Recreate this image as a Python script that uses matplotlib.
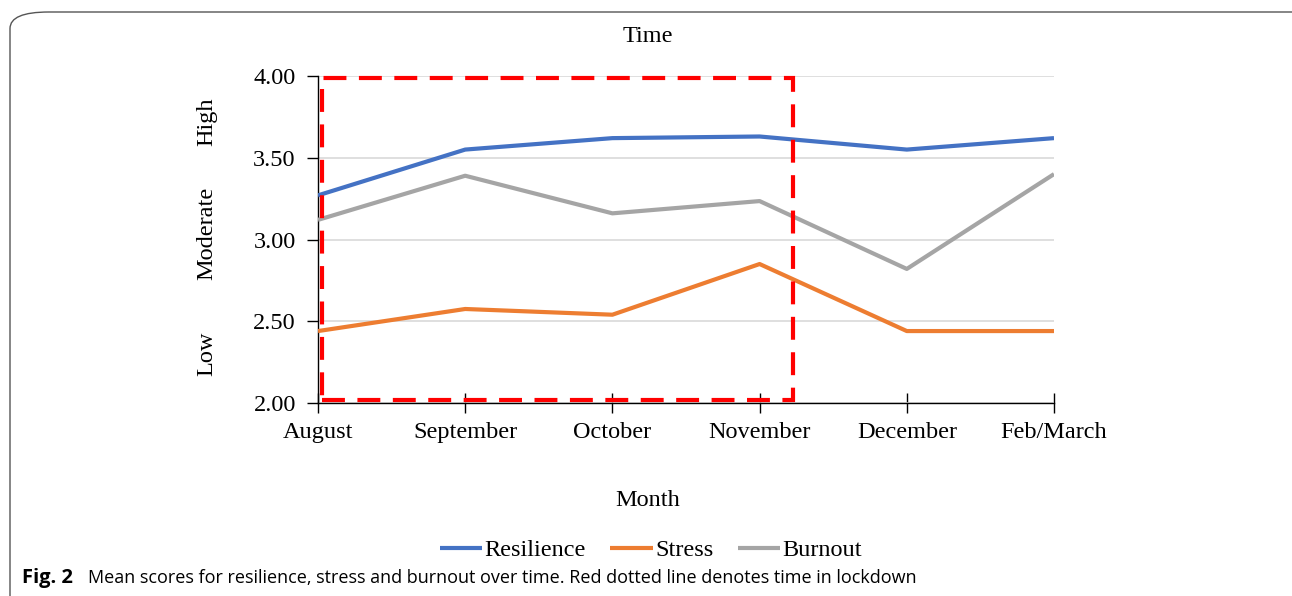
import matplotlib
matplotlib.use("Agg")
import matplotlib.pyplot as plt
from matplotlib.patches import FancyBboxPatch, Rectangle
import matplotlib.transforms as mtransforms

months = ["August", "September", "October", "November", "December", "Feb/March"]
resilience = [3.27, 3.55, 3.62, 3.63, 3.55, 3.62]
stress = [2.44, 2.575, 2.54, 2.85, 2.44, 2.44]
burnout = [3.12, 3.39, 3.16, 3.235, 2.82, 3.40]
yticks = [2.00, 2.50, 3.00, 3.50, 4.00]
level_labels = ["High", "Moderate", "Low"]
level_y = [3.72, 3.04, 2.30]
lockdown_x = (0.027, 3.23)
lockdown_y = (2.02, 3.99)

serif = "Liberation Serif"
fs = 17.5
fig = plt.figure(figsize=(12.92, 5.96), dpi=100)

# rounded frame
frame = FancyBboxPatch((10 / 1292, -0.05), 1.2, 1.05 - 12 / 596,
                       boxstyle="round,pad=0,rounding_size=0.03",
                       transform=fig.transFigure, fill=False,
                       edgecolor="#555555", linewidth=1.0, mutation_aspect=596 / 1292 * 2)
fig.patches.append(frame)

ax = fig.add_axes([318 / 1292, 1 - 403 / 596, (1054 - 318) / 1292, (403 - 76) / 596])
x = list(range(len(months)))
ax.plot(x, resilience, color="#4472C4", lw=3.0, label="Resilience", solid_capstyle="butt", zorder=3)
ax.plot(x, stress, color="#ED7D31", lw=3.0, label="Stress", solid_capstyle="butt", zorder=3)
ax.plot(x, burnout, color="#A5A5A5", lw=3.0, label="Burnout", solid_capstyle="butt", zorder=3)

rect = Rectangle((lockdown_x[0], lockdown_y[0]), lockdown_x[1] - lockdown_x[0],
                 lockdown_y[1] - lockdown_y[0], fill=False, edgecolor="#FF0000",
                 lw=3.0, linestyle=(0, (5.5, 3)), zorder=4, clip_on=False)
ax.add_patch(rect)

ax.set_xlim(0, len(months) - 1)
ax.set_ylim(2.0, 4.0)
ax.set_yticks(yticks)
ax.set_yticklabels([f"{v:.2f}" for v in yticks], fontfamily=serif, fontsize=fs)
ax.set_xticks(x)
ax.set_xticklabels(months, fontfamily=serif, fontsize=fs)
ax.grid(axis="y", color="#D9D9D9", lw=1.2, zorder=0)
ax.set_axisbelow(True)
for s in ["top", "right"]:
    ax.spines[s].set_visible(False)
ax.spines["left"].set_linewidth(1.0)
ax.spines["bottom"].set_linewidth(1.0)
ax.tick_params(axis="y", direction="out", length=8, width=1, pad=8)
ax.tick_params(axis="x", direction="inout", length=14, width=1, pad=7)

blend = mtransforms.blended_transform_factory(fig.transFigure, ax.transData)
for lab, yy in zip(level_labels, level_y):
    ax.text(207 / 1292, yy, lab, transform=blend, rotation=90, ha="center", va="center",
            fontfamily=serif, fontsize=fs)

fig.text(648 / 1292, 1 - 37 / 596, "Time", ha="center", va="center", fontfamily=serif, fontsize=fs)
fig.text(648 / 1292, 1 - 501 / 596, "Month", ha="center", va="center", fontfamily=serif, fontsize=fs)

fig.legend(loc="center", bbox_to_anchor=(651 / 1292, 1 - 550 / 596), ncol=3, frameon=False,
           prop={"family": serif, "size": fs}, handlelength=1.75, handletextpad=0.1,
           columnspacing=1.0)

fig.text(22 / 1292, 1 - 578 / 596, "Fig. 2", ha="left", va="center", fontfamily="Open Sans",
         fontweight="bold", fontsize=14.5)
fig.text(88 / 1292, 1 - 578 / 596,
         "Mean scores for resilience, stress and burnout over time. Red dotted line denotes time in lockdown",
         ha="left", va="center", fontfamily="Open Sans", fontsize=13)

fig.savefig("out.png", dpi=100)
